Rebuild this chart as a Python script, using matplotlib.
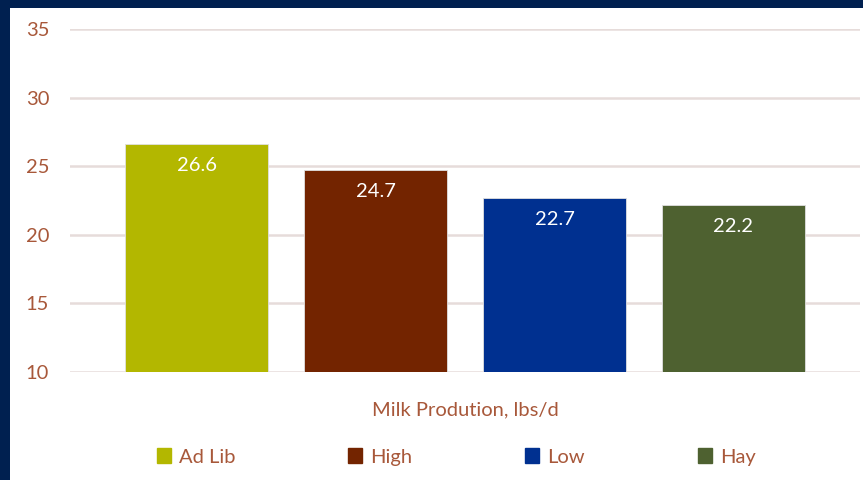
import matplotlib.pyplot as plt
from matplotlib.patches import Rectangle

# milk production by feeding treatment
treatments = ["Ad Lib", "High", "Low", "Hay"]
milk_lbs = [26.6, 24.7, 22.7, 22.2]
bar_colors = ["#B3B700", "#732400", "#003090", "#4E6130"]
y_ticks = [10, 15, 20, 25, 30, 35]

text_color = "#A8583A"
grid_color = "#E6DCDA"

plt.rcParams['font.family'] = ['Lato', 'DejaVu Sans']

fig = plt.figure(figsize=(8.63, 4.8), dpi=100)
fig.patch.set_facecolor("#002050")
# white slide panel inside the navy frame
fig.patches.append(Rectangle((10 / 863, 0), 1, 1 - 8 / 480, transform=fig.transFigure,
                             facecolor="white", edgecolor="none", zorder=-5))

ax = fig.add_axes([70 / 863, 1 - 372 / 480, 790 / 863, 343 / 480])
ax.set_facecolor("none")
ax.set_zorder(2)

x = range(len(treatments))
bars = ax.bar(x, milk_lbs, width=0.8, bottom=0, color=bar_colors,
              edgecolor="#E0E0E0", linewidth=0.6, label=treatments, zorder=3)

for rect, val in zip(bars, milk_lbs):
    ax.text(rect.get_x() + rect.get_width() / 2, val - 0.95, f"{val}",
            ha="center", va="top", color="white", fontsize=14.5, zorder=4)

ax.set_ylim(10, 35)
ax.set_xlim(-0.707, 3.707)
ax.set_yticks(y_ticks)
ax.yaxis.grid(True, color=grid_color, linewidth=1.8, zorder=0)
ax.set_axisbelow(True)
ax.tick_params(axis="y", length=0, pad=15, labelsize=14.5, labelcolor=text_color)
ax.set_xticks([])
for s in ax.spines.values():
    s.set_visible(False)

ax.set_xlabel("Milk Prodution, lbs/d", color=text_color, fontsize=14.5, labelpad=21)

handles = [Rectangle((0, 0), 1, 1, color=c) for c in bar_colors]
fig.legend(handles, treatments, loc="center", bbox_to_anchor=(456 / 863, 1 - 457 / 480),
           ncol=4, frameon=False, fontsize=14.5, labelcolor=text_color,
           handlelength=0.7, handleheight=0.7, handletextpad=0.4, columnspacing=5.6)

fig.savefig("out.png", dpi=100)
